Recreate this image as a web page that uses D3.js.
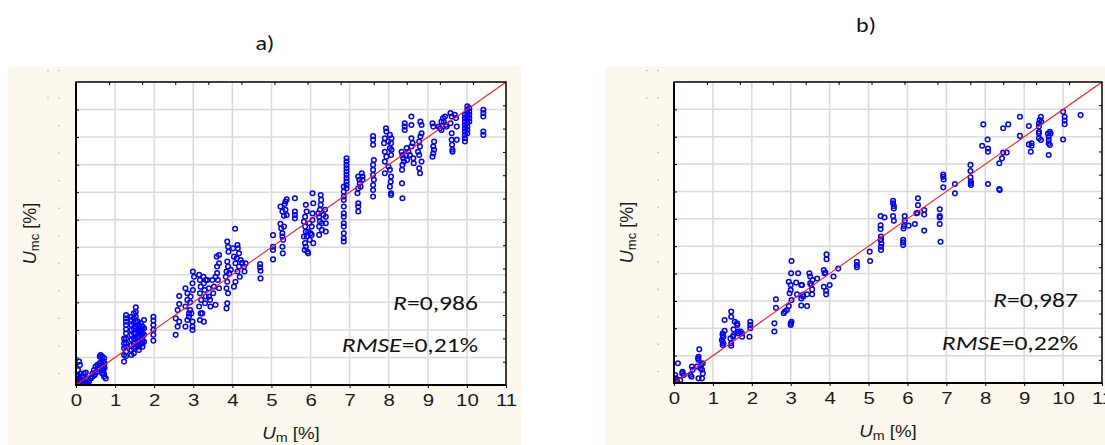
<!DOCTYPE html>
<html>
<head>
<meta charset="utf-8">
<script src="https://cdn.jsdelivr.net/npm/d3@7"></script>
<style>
  body { margin: 0; background: #fff; }
  svg { display: block; }
</style>
</head>
<body>
<script>
"use strict";

// axis ticks (both panels use 0..11 on x and y)
const xTicks = [0, 1, 2, 3, 4, 5, 6, 7, 8, 9, 10, 11];
const gridValues = [1, 2, 3, 4, 5, 6, 7, 8, 9, 10];

const panelTitles = ['a)', 'b)'];
const rValues = ['0,986', '0,987'];
const rmseValues = ['0,21%', '0,22%'];

// panel a: measured U_m with the list of modelled U_mc values read at that x
const columnsA = [
  [0.02, [0.12, 0.22]], [0.03, [0.30, 0.05]], [0.05, [0.54, 0.20, 0.35]], [0.08, [0.85, 0.06]],
  [0.10, [0.73, 0.25, 0.05]], [0.12, [0.42]], [0.14, [0.18]], [0.16, [0.30, 0.10]],
  [0.18, [0.15]], [0.20, [0.42, 0.08]], [0.25, [0.45, 0.10]], [0.27, [0.24]], [0.29, [0.18, 0.05]],
  [0.33, [0.12]], [0.38, [0.24]], [0.42, [0.42, 0.30]], [0.46, [0.54, 0.35]], [0.48, [0.36]],
  [0.50, [0.67, 0.45]], [0.55, [0.73, 0.48, 0.60]], [0.59, [0.61]], [0.61, [1.03, 0.80]],
  [0.63, [1.09, 0.70]], [0.67, [1.03, 0.42, 0.90, 0.60]], [0.70, [0.54, 0.85, 0.70]],
  [0.72, [0.97, 0.30, 0.40]], [0.73, [0.79, 0.62]], [0.76, [0.24]],
  [1.23, [1.69, 1.51, 1.33, 1.09, 0.85]],
  [1.28, [2.54, 2.42, 2.30, 2.18, 2.02, 1.88, 1.69, 1.51, 1.39, 1.21, 1.05]],
  [1.42, [2.48, 2.36, 2.18, 2.00, 1.82, 1.64, 1.45, 1.27, 1.09]],
  [1.48, [2.60, 2.42, 2.24, 2.06, 1.88, 1.69, 1.51, 1.33, 1.15]],
  [1.53, [2.82, 2.66, 2.48, 2.30, 2.12, 1.88, 1.64, 1.39]],
  [1.58, [2.30, 2.00, 1.70, 1.45]],
  [1.61, [2.18, 2.06, 1.94, 1.76, 1.57, 1.39, 1.27]],
  [1.66, [2.25, 2.00, 1.80, 1.50]],
  [1.70, [2.12, 2.00, 1.88, 1.76, 1.63, 1.51, 1.39]],
  [1.74, [2.36, 2.06, 1.82, 1.57]],
  [1.98, [2.48, 2.34, 2.18, 2.00, 1.82, 1.61]],
  [2.55, [2.42, 1.82]], [2.60, [2.72, 2.12]], [2.64, [3.23, 2.94, 2.30]],
  [2.80, [3.51, 2.85, 2.12]], [2.85, [3.33, 3.09, 2.36]], [2.89, [2.60, 2.48]], [2.92, [2.72, 3.00]],
  [2.93, [3.21]], [2.95, [2.60]], [2.98, [2.12, 2.00, 3.69, 2.30]], [2.99, [4.12, 3.45]], [3.02, [3.93]],
  [3.15, [4.00, 2.85]], [3.17, [3.81, 3.33, 2.36]], [3.19, [3.57, 2.60]], [3.20, [3.09]], [3.23, [2.60]],
  [3.26, [3.93]], [3.27, [3.69, 2.30]], [3.29, [3.45]], [3.30, [2.97]], [3.32, [3.21, 3.81]],
  [3.36, [3.81]], [3.40, [3.51, 3.21]], [3.43, [3.09]], [3.44, [2.85]], [3.49, [3.81]], [3.51, [3.33]],
  [3.53, [3.57]], [3.57, [3.93, 2.91]], [3.60, [4.66]], [3.61, [4.06, 4.30]], [3.63, [3.81]],
  [3.66, [3.51, 4.72, 4.42]],
  [3.83, [3.93]], [3.85, [4.12, 3.51, 2.78]], [3.87, [5.21, 4.48, 3.75, 2.97]], [3.89, [5.02, 4.30, 3.33]],
  [3.90, [4.84]], [3.92, [4.06]], [3.96, [4.18]],
  [4.02, [4.96]], [4.04, [4.66, 3.57]], [4.07, [5.67]], [4.08, [4.42, 3.75]], [4.11, [4.60]],
  [4.13, [5.08, 4.12]], [4.14, [4.96]], [4.17, [4.78, 4.30]], [4.19, [3.93]], [4.21, [4.54]],
  [4.25, [4.44]], [4.30, [4.30]], [4.31, [4.12]], [4.34, [4.42]],
  [4.71, [4.39, 4.27]], [4.72, [4.15, 3.87]],
  [5.04, [5.44, 5.02, 4.90, 4.56]],
  [5.23, [5.85, 6.48]], [5.25, [5.69]], [5.28, [5.51, 5.02, 6.30, 5.39]], [5.29, [4.78]], [5.30, [5.27]],
  [5.32, [6.14, 5.75]], [5.34, [6.57]], [5.36, [6.66, 6.36]], [5.39, [6.74, 6.17]],
  [5.60, [6.78, 6.30, 6.17, 6.05]],
  [5.83, [5.93, 5.39]], [5.85, [4.90]], [5.86, [6.11, 5.75, 5.15]], [5.88, [6.54, 5.57, 5.02]],
  [5.90, [6.30, 5.39]], [5.92, [4.84]], [5.94, [4.78, 5.57]], [5.97, [5.87]], [5.98, [5.27]],
  [6.00, [5.51]], [6.03, [5.75, 5.45]], [6.05, [5.99, 6.23, 6.96]], [6.07, [6.60, 5.15]],
  [6.20, [6.23]], [6.22, [6.11, 5.75, 5.45]], [6.24, [6.36, 5.93]], [6.26, [6.90, 6.54]], [6.27, [6.72]],
  [6.29, [5.87, 5.63]], [6.33, [6.17]], [6.37, [6.36]], [6.39, [6.11, 5.87, 5.57]],
  [6.85, [7.20, 7.02, 6.84, 6.72, 6.48, 6.23, 6.11, 5.87, 5.75, 5.51, 5.33, 5.21]],
  [6.92, [8.23, 8.11, 7.99, 7.87, 7.75, 7.63, 7.51, 7.39, 7.26, 7.14]],
  [7.20, [6.96]], [7.22, [7.57, 7.14, 6.60, 6.48, 6.30]], [7.25, [7.45]], [7.26, [7.32]], [7.28, [7.20]],
  [7.31, [7.69]], [7.33, [7.57, 7.45]],
  [7.60, [9.04, 8.90, 8.72, 7.99, 7.81, 7.63, 7.26, 7.08, 6.84]], [7.62, [8.17, 7.45]],
  [7.88, [8.78]], [7.90, [8.96, 8.47, 8.11, 7.69]], [7.93, [9.32]], [7.94, [9.20, 8.29]], [7.99, [8.84, 7.93]],
  [8.03, [9.08, 8.60, 7.81, 7.20]], [8.05, [7.38]], [8.06, [8.78, 8.35, 7.57, 6.96, 6.90]], [8.07, [8.96, 8.54]],
  [8.33, [8.47]], [8.34, [7.81, 7.32]], [8.35, [8.35, 7.99, 6.78]], [8.37, [8.23]], [8.39, [8.11]],
  [8.41, [9.38, 9.26, 9.50]], [8.44, [8.35]], [8.46, [8.60]], [8.47, [8.17]], [8.50, [8.47]], [8.54, [8.35]],
  [8.58, [9.75, 9.44, 8.96, 8.66]], [8.61, [8.78]], [8.63, [8.23]], [8.64, [8.05]],
  [8.75, [8.47]], [8.78, [8.84, 8.35, 7.87]], [8.80, [8.66, 7.69]], [8.81, [9.56, 9.02]], [8.84, [9.44, 9.14, 8.11]],
  [9.12, [9.50, 8.29]], [9.14, [9.38, 8.66, 8.41]], [9.16, [8.84, 8.54]], [9.27, [9.38]], [9.31, [9.32]],
  [9.35, [9.26, 9.56]], [9.39, [9.69]], [9.41, [9.56]], [9.44, [9.75]], [9.46, [9.44]], [9.48, [9.38]],
  [9.58, [9.87, 9.50]], [9.61, [9.75, 9.14, 8.90]], [9.62, [8.72]], [9.63, [8.54, 8.47]], [9.69, [9.81]],
  [9.72, [9.69]], [9.74, [9.38, 8.90]],
  [9.95, [9.81, 9.69, 9.56, 9.44, 9.32, 9.20, 9.08, 8.96, 8.84]],
  [10.01, [10.12, 9.99, 9.87, 9.75, 9.63, 9.50, 9.38, 9.26, 9.14]],
  [10.06, [10.05, 9.93, 9.81, 9.69, 9.56]],
  [10.42, [9.99, 9.87, 9.75, 9.20, 9.08]]
];

// panel b: [U_m, U_mc] pairs
const pointsB = [
  [0.03, 0.29], [0.05, 0.17], [0.08, 0.11], [0.02, 0.05], [0.10, 0.72], [0.16, 0.11], [0.21, 0.35],
  [0.22, 0.41], [0.25, 0.29], [0.42, 0.29], [0.45, 0.23], [0.46, 0.60], [0.48, 0.48], [0.59, 0.60],
  [0.62, 0.90], [0.63, 0.84], [0.65, 1.23], [0.63, 0.96], [0.68, 0.54], [0.72, 0.48], [0.74, 0.35],
  [0.72, 0.17], [0.63, 0.17], [0.74, 0.72], [0.70, 0.66],
  [1.25, 1.81], [1.25, 1.75], [1.27, 1.69], [1.25, 1.51], [1.27, 1.45], [1.25, 1.39], [1.30, 2.30],
  [1.30, 1.91], [1.23, 1.57],
  [1.45, 1.63], [1.47, 1.45], [1.47, 2.42], [1.47, 2.61], [1.52, 1.69], [1.53, 1.75], [1.53, 1.96],
  [1.56, 2.24], [1.62, 2.18], [1.63, 2.12], [1.65, 1.88], [1.66, 1.81], [1.71, 1.88], [1.75, 1.69],
  [1.75, 1.81], [1.47, 1.36],
  [1.96, 2.24], [1.96, 2.12], [1.96, 2.00], [1.94, 1.69],
  [2.58, 2.18], [2.58, 1.88], [2.62, 3.06], [2.62, 2.75],
  [2.82, 2.55], [2.85, 2.61], [2.90, 2.67], [2.95, 2.81], [2.95, 3.70], [2.97, 3.28], [3.00, 3.58],
  [3.00, 3.40], [3.01, 4.01], [3.02, 4.46], [3.02, 2.24], [3.00, 2.18], [3.00, 2.12], [3.02, 3.03],
  [3.14, 3.67], [3.19, 4.01], [3.16, 3.24], [3.27, 3.58], [3.29, 3.58], [3.31, 3.22], [3.27, 3.09],
  [3.27, 2.83], [3.32, 3.15], [3.42, 3.24], [3.42, 2.81], [3.48, 4.01], [3.50, 3.89], [3.50, 3.64],
  [3.53, 3.58], [3.55, 3.42], [3.55, 3.24], [3.56, 3.76],
  [3.68, 3.82], [3.85, 4.13], [3.87, 4.01], [3.89, 4.04], [3.92, 4.70], [3.92, 4.52], [3.85, 3.52],
  [3.91, 3.37], [3.91, 3.24], [4.00, 3.58], [4.10, 3.89], [4.22, 4.18],
  [4.70, 4.43], [4.70, 4.31], [4.70, 4.23],
  [5.03, 4.80], [5.04, 4.46],
  [5.31, 6.10], [5.41, 6.05], [5.31, 5.76], [5.31, 5.63], [5.32, 5.35], [5.32, 5.25], [5.33, 5.10],
  [5.32, 4.98], [5.32, 4.86], [5.31, 5.23],
  [5.63, 6.66], [5.63, 6.57], [5.65, 6.47], [5.65, 6.38], [5.63, 6.10], [5.65, 5.93],
  [5.93, 6.10], [5.93, 5.93], [5.91, 5.74], [5.90, 5.65], [5.89, 5.23], [5.89, 5.14], [5.89, 5.04],
  [6.03, 5.75],
  [6.23, 6.20], [6.26, 6.22], [6.27, 6.75], [6.27, 6.50], [6.43, 6.32], [6.43, 6.16], [6.43, 5.57],
  [6.19, 5.81],
  [6.83, 6.35], [6.83, 6.10], [6.83, 6.05], [6.83, 5.81], [6.85, 5.16],
  [6.92, 7.62], [6.92, 7.54], [6.93, 7.44], [6.92, 7.15], [7.22, 7.27], [7.22, 6.93],
  [7.62, 7.97], [7.62, 7.75], [7.62, 7.52], [7.63, 7.36], [7.63, 7.30], [7.63, 7.24],
  [7.92, 8.67], [7.95, 9.45], [8.06, 8.90], [8.07, 8.57], [8.07, 8.45], [8.07, 7.27],
  [8.36, 8.03], [8.36, 7.09], [8.37, 7.05], [8.43, 8.21], [8.46, 8.42], [8.46, 9.31], [8.59, 9.45],
  [8.55, 8.42],
  [8.89, 9.73], [8.89, 9.03],
  [9.12, 9.39], [9.12, 8.72], [9.17, 8.45], [9.19, 8.76], [9.19, 8.67],
  [9.38, 9.49], [9.40, 9.61], [9.43, 9.73], [9.38, 9.37], [9.38, 9.18], [9.38, 9.12], [9.38, 8.94],
  [9.43, 8.88], [9.44, 9.55],
  [9.61, 9.12], [9.63, 9.00], [9.66, 9.18], [9.63, 8.88], [9.63, 8.76], [9.63, 8.33], [9.66, 8.70],
  [9.68, 9.12],
  [10.00, 9.91], [10.04, 9.73], [10.04, 9.59], [10.04, 9.46], [10.00, 8.90],
  [10.45, 9.79]
];

const pointsA = columnsA.flatMap(([x, ys]) => ys.map(y => [x, y]));

const W = 1105, H = 445;
const svg = d3.select('body').append('svg').attr('width', W).attr('height', H);

const panels = [
  { bg: [8, 67, 513, 378], plot: { left: 76, top: 82, right: 506, bottom: 385 },
    points: pointsA, title: [265, 50], stats: [478, 310, 352], yTitleX: 36, dotX: 59 },
  { bg: [605, 67, 500, 378], plot: { left: 674, top: 82, right: 1102, bottom: 383 },
    points: pointsB, title: [866, 32], stats: [1078, 307, 350], yTitleX: 633, dotX: 658 }
];

panels.forEach((p, i) => drawPanel(p, i));

function drawPanel(p, i) {
  const g = svg.append('g');
  const { left, top, right, bottom } = p.plot;

  g.append('rect')
    .attr('x', p.bg[0]).attr('y', p.bg[1])
    .attr('width', p.bg[2]).attr('height', p.bg[3])
    .attr('fill', '#fdf8ee');

  const x = d3.scaleLinear().domain([0, 11]).range([left, right]);
  const y = d3.scaleLinear().domain([0, 11]).range([bottom, top]);

  g.append('rect')
    .attr('x', left).attr('y', top)
    .attr('width', right - left).attr('height', bottom - top)
    .attr('fill', '#fff');

  // grid
  g.append('g').selectAll('line').data(gridValues).join('line')
    .attr('x1', d => x(d)).attr('x2', d => x(d))
    .attr('y1', top).attr('y2', bottom)
    .attr('stroke', '#dadada').attr('stroke-width', 1.5);
  g.append('g').selectAll('line').data(gridValues).join('line')
    .attr('y1', d => y(d)).attr('y2', d => y(d))
    .attr('x1', left).attr('x2', right)
    .attr('stroke', '#dadada').attr('stroke-width', 1.5);

  // faint remnants of the hidden y tick labels
  const dots = g.append('g').attr('fill', '#b8b8b8');
  xTicks.forEach(v => {
    dots.append('circle').attr('cx', p.dotX).attr('cy', y(v) - 11.5).attr('r', 0.8);
    if (v >= 10) dots.append('circle').attr('cx', p.dotX - 11).attr('cy', y(v) - 11.5).attr('r', 0.8);
  });

  // clip for marks
  const clipId = 'clip' + i;
  g.append('clipPath').attr('id', clipId)
    .append('rect').attr('x', left).attr('y', top)
    .attr('width', right - left).attr('height', bottom - top);

  const marks = g.append('g').attr('clip-path', `url(#${clipId})`);

  marks.append('g').selectAll('circle').data(p.points).join('circle')
    .attr('cx', d => x(d[0])).attr('cy', d => y(d[1]))
    .attr('r', 2.3)
    .attr('fill', 'none')
    .attr('stroke', '#0000ff')
    .attr('stroke-width', 1.5);

  marks.append('line')
    .attr('x1', x(0)).attr('y1', y(0))
    .attr('x2', x(11)).attr('y2', y(11))
    .attr('stroke', '#ff1a1a').attr('stroke-width', 1.1);

  // bottom axis with labels (the original is stretched a little horizontally)
  const axisFont = '"Liberation Sans", Arial, sans-serif';
  const xAxis = d3.axisBottom(x).tickValues(xTicks).tickSize(3).tickPadding(6);
  const ax = g.append('g').attr('transform', `translate(0,${bottom})`).call(xAxis);
  ax.select('.domain').remove();
  ax.selectAll('line').attr('stroke', '#000');
  ax.selectAll('text')
    .attr('font-family', axisFont)
    .attr('font-size', 17).attr('fill', '#1a1a1a')
    .attr('transform', 'scale(1.2,1)');

  // left ticks (inward), top and right minor ticks
  g.append('g').attr('transform', `translate(${left},0)`)
    .call(d3.axisRight(y).tickValues(gridValues).tickSize(3).tickFormat(''))
    .call(s => s.select('.domain').remove());
  const x13 = d3.scaleLinear().domain([0, 13]).range([left, right]);
  const y13 = d3.scaleLinear().domain([0, 13]).range([bottom, top]);
  g.append('g').attr('transform', `translate(0,${top})`)
    .call(d3.axisBottom(x13).tickValues(d3.range(1, 13)).tickSize(3).tickFormat(''))
    .call(s => s.select('.domain').remove());
  g.append('g').attr('transform', `translate(${right},0)`)
    .call(d3.axisLeft(y13).tickValues(d3.range(1, 13)).tickSize(3).tickFormat(''))
    .call(s => s.select('.domain').remove());

  // frame
  g.append('rect')
    .attr('x', left).attr('y', top)
    .attr('width', right - left).attr('height', bottom - top)
    .attr('fill', 'none').attr('stroke', '#000').attr('stroke-width', 1.5);
  g.append('path')
    .attr('d', `M${left},${top}V${bottom}H${right}`)
    .attr('fill', 'none').attr('stroke', '#000').attr('stroke-width', 2);

  // axis titles
  const xt = g.append('text')
    .attr('transform', `translate(${(left + right) / 2},${i === 0 ? 439 : 437}) scale(1.1,1)`)
    .attr('text-anchor', 'middle')
    .attr('font-family', axisFont).attr('font-size', 17).attr('fill', '#1a1a1a');
  xt.append('tspan').attr('font-style', 'italic').text('U');
  xt.append('tspan').attr('font-size', 13).attr('dy', 3).text('m');
  xt.append('tspan').attr('dy', -3).text(' [%]');

  const yt = g.append('text')
    .attr('transform', `translate(${p.yTitleX},${(top + bottom) / 2}) rotate(-90)`)
    .attr('text-anchor', 'middle')
    .attr('font-family', axisFont).attr('font-size', 18).attr('fill', '#1a1a1a');
  yt.append('tspan').attr('font-style', 'italic').text('U');
  yt.append('tspan').attr('font-size', 13).attr('dy', 3).text('mc');
  yt.append('tspan').attr('dy', -3).text(' [%]');

  // title
  const labelFont = 'Carlito, Calibri, Lato, sans-serif';
  g.append('text')
    .attr('transform', `translate(${p.title[0]},${p.title[1]}) scale(1.2,1)`)
    .attr('text-anchor', 'middle')
    .attr('font-family', labelFont).attr('font-size', 20).attr('fill', '#111')
    .text(panelTitles[i]);

  // statistics
  const r = g.append('text')
    .attr('transform', `translate(${p.stats[0]},${p.stats[1]}) scale(1.22,1)`)
    .attr('text-anchor', 'end')
    .attr('font-family', labelFont).attr('font-size', 21).attr('fill', '#111');
  r.append('tspan').attr('font-style', 'italic').text('R');
  r.append('tspan').text('=' + rValues[i]);

  const e = g.append('text')
    .attr('transform', `translate(${p.stats[0]},${p.stats[2]}) scale(1.22,1)`)
    .attr('text-anchor', 'end')
    .attr('font-family', labelFont).attr('font-size', 21).attr('fill', '#111');
  e.append('tspan').attr('font-style', 'italic').text('RMSE');
  e.append('tspan').text('=' + rmseValues[i]);
}
</script>
</body>
</html>
